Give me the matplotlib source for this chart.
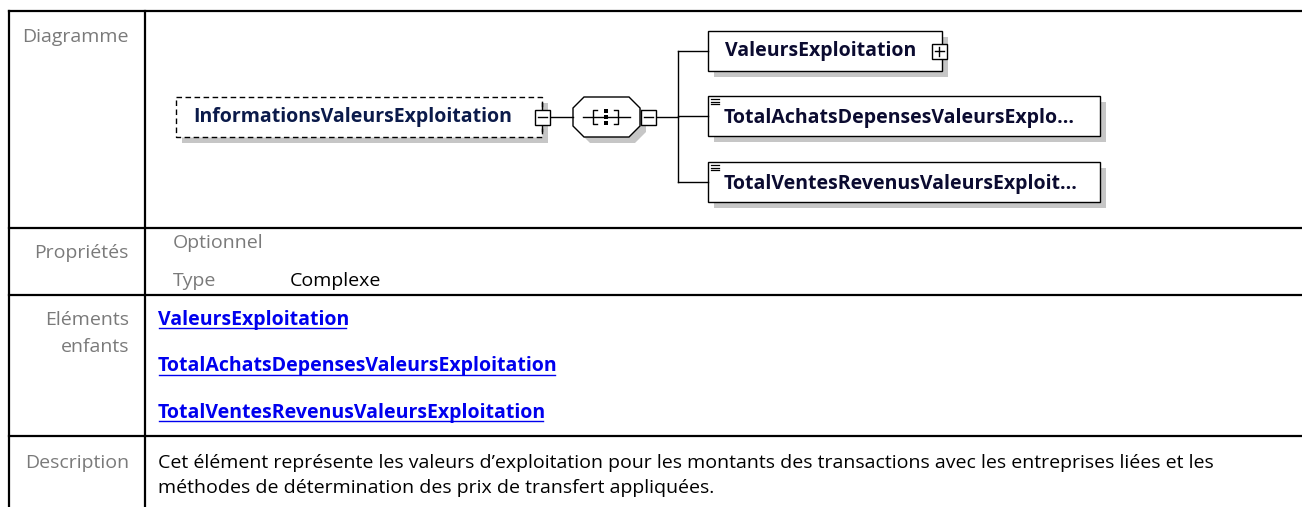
import matplotlib
matplotlib.use('Agg')
import matplotlib.pyplot as plt
from matplotlib.patches import Rectangle, Polygon

plt.rcParams['font.family'] = ['Open Sans', 'DejaVu Sans']

# texts of the documentation table
row_labels = ['Diagramme', 'Propriétés', 'Eléments', 'enfants', 'Description']
root_name = 'InformationsValeursExploitation'
child_names = ['ValeursExploitation', 'TotalAchatsDepensesValeursExplo...',
               'TotalVentesRevenusValeursExploit...']
child_expand = [True, False, False]
child_simple = [False, True, True]
child_links = ['ValeursExploitation', 'TotalAchatsDepensesValeursExploitation',
               'TotalVentesRevenusValeursExploitation']
prop_names = ['Optionnel', 'Type']
prop_values = ['', 'Complexe']
description = ['Cet élément représente les valeurs d\u2019exploitation pour les montants des '
               'transactions avec les entreprises liées et les',
               'méthodes de détermination des prix de transfert appliquées.']

W, H = 1302, 507
fig = plt.figure(figsize=(W / 100, H / 100), dpi=100)
ax = fig.add_axes([0, 0, 1, 1])
ax.set_xlim(0, W)
ax.set_ylim(H, 0)
ax.axis('off')

LW = 1.6
GRAY = '#7a7a7a'
FS = 14

# table grid
ax.plot([9, 9], [11, H], color='black', lw=LW)
ax.plot([145, 145], [11, H], color='black', lw=LW)
for y in [11, 228, 295, 436]:
    ax.plot([9, W], [y, y], color='black', lw=LW)

label_y = [37, 253, 320, 347, 463]
for lab, y in zip(row_labels, label_y):
    ax.text(129, y, lab, ha='right', va='center', color=GRAY, fontsize=FS)

# properties
for i, (n, v) in enumerate(zip(prop_names, prop_values)):
    y = 243 + i * 38
    ax.text(173, y, n, ha='left', va='center', color=GRAY, fontsize=FS)
    if v:
        ax.text(290, y, v, ha='left', va='center', color='black', fontsize=FS)

# child links (underlined)
link_texts = []
for i, name in enumerate(child_links):
    t = ax.text(158, 320 + i * 46.5, name, ha='left', va='center', color='#0000ee',
                fontsize=FS, fontweight='bold')
    link_texts.append(t)

# description
for i, line in enumerate(description):
    ax.text(158, 463 + i * 25, line, ha='left', va='center', color='black', fontsize=FS)


# ---- diagram ----
def box(x0, y0, x1, y1, dashed=False):
    ax.add_patch(Rectangle((x0 + 6, y0 + 6), x1 - x0, y1 - y0, fc='#c6c6c6', ec='none'))
    ax.add_patch(Rectangle((x0, y0), x1 - x0, y1 - y0, fc='white', ec='black', lw=1.0,
                           ls=(0, (4, 2.5)) if dashed else '-'))


def toggle(cx, cy, plus=False):
    ax.add_patch(Rectangle((cx - 7.5, cy - 7.5), 15, 15, fc='white', ec='black', lw=1.0, zorder=3))
    ax.plot([cx - 4.5, cx + 4.5], [cy, cy], color='black', lw=1.0, zorder=4)
    if plus:
        ax.plot([cx, cx], [cy - 4.5, cy + 4.5], color='black', lw=1.0, zorder=4)


cy = 117
# root element
box(176, 97, 542, 137, dashed=True)
ax.text(193, cy, root_name, ha='left', va='center', color='#0b1a4a', fontsize=FS,
        fontweight='bold')
ax.plot([542, 542], [103, 131], color='black', lw=1.0)
toggle(542, cy)
ax.plot([550, 573], [cy, cy], color='black', lw=1.0)

# sequence compositor
sx0, sx1, sy0, sy1, c = 573, 640, 97, 137, 11
pts = [(sx0 + c, sy0), (sx1 - c, sy0), (sx1, sy0 + c), (sx1, sy1 - c), (sx1 - c, sy1),
       (sx0 + c, sy1), (sx0, sy1 - c), (sx0, sy0 + c)]
ax.add_patch(Polygon([(x + 6, y + 6) for x, y in pts], closed=True, fc='#c6c6c6', ec='none'))
ax.add_patch(Polygon(pts, closed=True, fc='white', ec='black', lw=1.0))
ax.plot([583, 630], [cy, cy], color='black', lw=1.0)
ax.plot([597, 593, 593, 597], [cy - 7, cy - 7, cy + 7, cy + 7], color='black', lw=1.0)
ax.plot([614, 618, 618, 614], [cy - 7, cy - 7, cy + 7, cy + 7], color='black', lw=1.0)
for dy in (-6, 0, 6):
    ax.add_patch(Rectangle((603.5, cy + dy - 2), 4, 4, fc='black', ec='none', zorder=4))
toggle(648, cy)
ax.plot([655.5, 678], [cy, cy], color='black', lw=1.0)

# children
child_cy = [51, 116, 182]
child_x1 = [942, 1100, 1100]
ax.plot([678, 678], [child_cy[0], child_cy[-1]], color='black', lw=1.0)
for name, ccy, x1, exp, simple in zip(child_names, child_cy, child_x1, child_expand, child_simple):
    ax.plot([678, 708], [ccy, ccy], color='black', lw=1.0)
    box(708, ccy - 20, x1, ccy + 20)
    if exp:
        ax.text(725, ccy, name, ha='left', va='center', color='#0b0b30', fontsize=FS,
                fontweight='bold')
        toggle(x1 - 3, ccy, plus=True)
    else:
        ax.text(724, ccy + 2, name, ha='left', va='center', color='#0b0b30', fontsize=FS,
                fontweight='bold')
    if simple:
        for k in range(3):
            ax.plot([711, 719], [ccy - 17 + k * 2.6, ccy - 17 + k * 2.6], color='black', lw=0.9)

# underline the links
fig.canvas.draw()
r = fig.canvas.get_renderer()
inv = ax.transData.inverted()
for t in link_texts:
    bb = t.get_window_extent(r)
    (xa, ya), (xb, yb) = inv.transform([(bb.x0, bb.y0), (bb.x1, bb.y1)])
    ax.plot([xa + 1, xb - 3], [ya - 2, ya - 2], color='#0000ee', lw=1.0)

fig.savefig('out.png', dpi=100, facecolor='white')
